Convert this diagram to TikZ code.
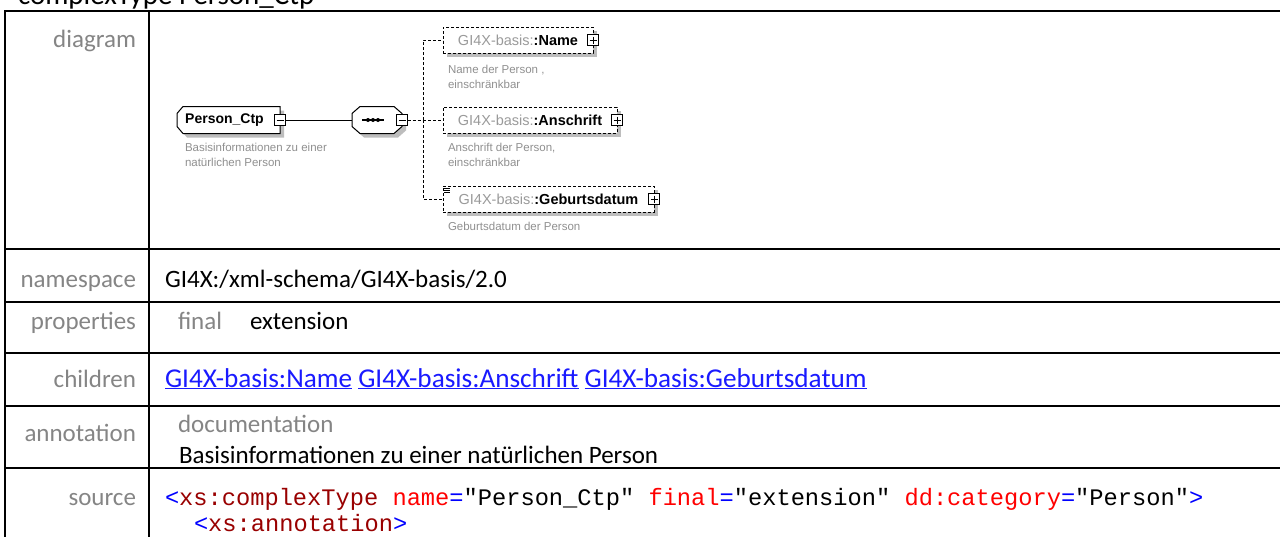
\documentclass[tikz,border=0pt]{standalone}
\usepackage{fontspec}
\setmainfont{Carlito}
\newfontfamily\diagfont{Liberation Sans}
\newfontfamily\codefont{Liberation Mono}
\usetikzlibrary{shadows}
\definecolor{labelgray}{HTML}{858585}
\definecolor{notegray}{HTML}{909090}
\definecolor{prefixgray}{HTML}{9A9A9A}
\definecolor{shadowgray}{HTML}{BDBDBD}
\definecolor{linkblue}{HTML}{1A1AFF}
\definecolor{tagred}{HTML}{990000}
\definecolor{attred}{HTML}{FF0000}
\definecolor{markblue}{HTML}{0000FF}

\begin{document}
\begin{tikzpicture}[x=1pt, y=-1pt,
        every node/.style={inner sep=0pt, outer sep=0pt},
        tablerule/.style={line width=2.2pt},
        rowlabel/.style={anchor=base east, text=labelgray, font=\fontsize{25}{30}\selectfont},
        rowvalue/.style={anchor=base west, font=\fontsize{25}{30}\selectfont},
        codeline/.style={anchor=base west, font=\codefont\fontsize{23.7}{28}\selectfont},
        shadowed/.style={drop shadow={shadow xshift=4pt, shadow yshift=-4pt, fill=shadowgray, opacity=1}},
        ctframe/.style={rectangle, minimum height=27pt},
        outline/.style={draw, fill=white, line width=1pt, shadowed},
        elembox/.style={rectangle, draw, fill=white, line width=1pt, dash pattern=on 3pt off 2pt, minimum height=26pt, font=\diagfont\fontsize{14.5}{17}\selectfont, shadowed},
        note/.style={anchor=north west, align=left, text=notegray, font=\diagfont\fontsize{11.5}{15}\selectfont},
        toggle/.style={rectangle, draw, fill=white, line width=0.8pt, minimum size=11pt},
        minusmark/.style={toggle, path picture={\draw[line width=0.8pt] ([xshift=2pt]path picture bounding box.west) -- ([xshift=-2pt]path picture bounding box.east);}},
        plusmark/.style={toggle, path picture={\draw[line width=0.8pt] ([xshift=2pt]path picture bounding box.west) -- ([xshift=-2pt]path picture bounding box.east) ([yshift=-2pt]path picture bounding box.north) -- ([yshift=2pt]path picture bounding box.south);}},
        solidlink/.style={line width=1pt},
        dashlink/.style={line width=1pt, dash pattern=on 3pt off 2pt}
    ]
%
    \useasboundingbox (0,0) rectangle (1280,536);
    \clip (0,0) rectangle (1280,536);
    \fill[white] (0,0) rectangle (1280,536);
%
    % Title (cut off at the top)
    \node[anchor=base west, font=\fontsize{29}{34}\selectfont] (title) at (18,4) {complexType Person\_Ctp};
%
    % Table frame
    \draw[tablerule] (1280,11) -- (5,11) -- (5,540);
    \draw[tablerule] (149,11) -- (149,540);
    \foreach \y in {249,302,353,406,468}
        \draw[tablerule] (5,\y) -- (1280,\y);
%
    % Row labels
    \node[rowlabel] (lbldiagram) at (136,47) {diagram};
    \node[rowlabel] (lblnamespace) at (136,287) {namespace};
    \node[rowlabel] (lblproperties) at (136,329) {properties};
    \node[rowlabel] (lblchildren) at (136,387) {children};
    \node[rowlabel] (lblannotation) at (136,441) {annotation};
    \node[rowlabel] (lblsource) at (136,505) {source};
%
    % Row values
    \node[rowvalue] (nsvalue) at (165,287) {GI4X:/xml-schema/GI4X-basis/2.0};
    \node[rowvalue, text=labelgray] (propkey) at (178,329) {final};
    \node[rowvalue] (propvalue) at (250,329) {extension};
    \node[rowvalue, text=linkblue, font=\fontsize{27.2}{30}\selectfont] (childlinks) at (165,387) {\underline{GI4X-basis:Name} \underline{GI4X-basis:Anschrift} \underline{GI4X-basis:Geburtsdatum}};
    \node[rowvalue, text=labelgray] (dockey) at (178,432) {documentation};
    \node[rowvalue] (docvalue) at (179,463) {Basisinformationen zu einer natürlichen Person};
    \node[codeline] (srcfirst) at (165,505) {{\color{markblue}<}{\color{tagred}xs:complexType} {\color{attred}name}{\color{markblue}=}"Person\_Ctp" {\color{attred}final}{\color{markblue}=}"extension" {\color{attred}dd:category}{\color{markblue}=}"Person"{\color{markblue}>}};
    \node[codeline] (srcsecond) at (194,531) {{\color{markblue}<}{\color{tagred}xs:annotation}{\color{markblue}>}};
%
    % Root complex type
    \node[ctframe, minimum width=103pt] (pbox) at (228.5,120) {};
    \draw[outline] (pbox.north east) -- ([xshift=6pt]pbox.north west) -- ([yshift=-7pt]pbox.north west) -- ([yshift=7pt]pbox.south west) -- ([xshift=6pt]pbox.south west) -- (pbox.south east) -- cycle;
    \node[font=\diagfont\bfseries\fontsize{14}{16}\selectfont] (ptext) at ([xshift=-4pt]pbox.center) {Person\_Ctp};
    \node[minusmark] (pmin) at (pbox.east) {};
    \node[note] (pnote) at (185,143.5) {Basisinformationen zu einer\\natürlichen Person};
%
    % Sequence compositor
    \node[ctframe, minimum width=50pt] (seq) at (377,120) {};
    \draw[outline] ([xshift=8pt]seq.north west) -- ([xshift=-8pt]seq.north east) -- ([yshift=-7pt]seq.north east) -- ([yshift=7pt]seq.south east) -- ([xshift=-8pt]seq.south east) -- ([xshift=8pt]seq.south west) -- ([yshift=7pt]seq.south west) -- ([yshift=-7pt]seq.north west) -- cycle;
    \draw[line width=1.2pt] ([xshift=-15pt]seq.center) -- ([xshift=7pt]seq.center);
    \foreach \dx in {-9,-4,1}
        \fill ([xshift=\dx pt]seq.center) circle (2);
    \node[minusmark] (smin) at (seq.east) {};
    \draw[solidlink] (pmin) -- (seq);
%
    % Child elements
    \coordinate (fork) at (423,120);
    \node[elembox, minimum width=150pt] (nameb) at (518,40) {{\color{prefixgray}GI4X-basis:}\textbf{:Name}};
    \node[plusmark] (nameplus) at (nameb.east) {};
    \node[note] (namenote) at (448,65) {Name der Person ,\\einschränkbar};
%
    \node[elembox, minimum width=174pt] (anschb) at (530,120) {{\color{prefixgray}GI4X-basis:}\textbf{:Anschrift}};
    \node[plusmark] (anschplus) at (anschb.east) {};
    \node[note] (anschnote) at (448,143.5) {Anschrift der Person,\\einschränkbar};
%
    \node[elembox, minimum width=211pt] (gebb) at (548.5,199) {{\color{prefixgray}GI4X-basis:}\textbf{:Geburtsdatum}};
    \node[plusmark] (gebplus) at (gebb.east) {};
    \foreach \dy in {2,4,6}
        \draw[line width=0.7pt] ([xshift=1pt,yshift=-\dy pt]gebb.north west) -- ++(6,0);
    \node[note] (gebnote) at (448,222.5) {Geburtsdatum der Person};
%
    % Connectors to the children
    \draw[dashlink] (smin.east) -- (fork);
    \draw[dashlink] (fork) |- (nameb.west);
    \draw[dashlink] (fork) -- (anschb.west);
    \draw[dashlink] (fork) |- (gebb.west);
%
\end{tikzpicture}
\end{document}
